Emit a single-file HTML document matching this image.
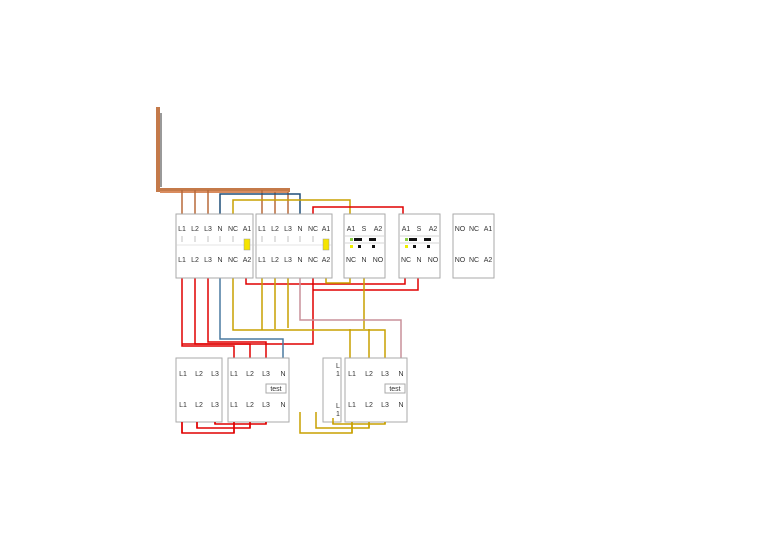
<!DOCTYPE html>
<html><head><meta charset="utf-8"><style>
html,body{margin:0;padding:0;background:#fff;}
svg{display:block;font-family:"Liberation Sans",sans-serif;}
text{font-size:7px;fill:#333;text-anchor:middle;}
</style></head><body>
<svg width="760" height="538" viewBox="0 0 760 538">
<g fill="none" stroke-width="1.5">
<!-- brown bundle -->
<path d="M158 107 L158 190 L290 190" stroke="#c47a4a" stroke-width="4"/>
<path d="M161 113 L161 187" stroke="#555" stroke-width="1.2"/>
<path d="M160 192 L288 192" stroke="#d98c5f" stroke-width="2"/>
<path d="M182 190V214M195 190V214M208 190V214M262 190V214M275 192V214M288 192V214" stroke="#b86a3a"/>
<path d="M220 214V194H300V214" stroke="#1f4e79"/>
<path d="M233 214V200H350V214" stroke="#c8a000"/>
<path d="M313 214V207H403V214" stroke="#e00000"/>
<!-- red below -->
<path d="M182 278V346H234V358" stroke="#e00000"/>
<path d="M195 278V344H250V358" stroke="#e00000"/>
<path d="M208 278V342H266V358" stroke="#e00000"/>
<path d="M313 278V344H182" stroke="#e00000"/>
<path d="M246 278V284H405V278" stroke="#e00000"/>
<path d="M313 290H418V278" stroke="#e00000"/>
<path d="M220 278V339H283V358" stroke="#4a7aa0"/>
<!-- yellow -->
<path d="M326 278V283H350V278" stroke="#c8a000"/>
<path d="M233 278V330H385V358" stroke="#c8a000"/>
<path d="M262 278V330M275 278V329M288 278V328" stroke="#c8a000"/>
<path d="M364 278V329M350 329V358M369 329V358" stroke="#c8a000"/>
<path d="M300 278V320H401V358" stroke="#c8909a"/>
<!-- bottom loops -->
<path d="M182 414V433H234V414" stroke="#e00000"/>
<path d="M197 414V428H250V414" stroke="#e00000"/>
<path d="M215 414V424H266V414" stroke="#e00000"/>
<path d="M300 412V433H352V414" stroke="#c8a000"/>
<path d="M316 412V428H369V414" stroke="#c8a000"/>
<path d="M333 412V424H385V414" stroke="#c8a000"/>
</g>
<g fill="#fff" stroke="#aaa" stroke-width="1">
<rect x="176" y="214" width="77" height="64"/>
<rect x="256" y="214" width="76" height="64"/>
<rect x="344" y="214" width="41" height="64"/>
<rect x="399" y="214" width="41" height="64"/>
<rect x="453" y="214" width="41" height="64"/>
<rect x="176" y="358" width="46" height="64"/>
<rect x="228" y="358" width="61" height="64"/>
<rect x="323" y="358" width="18" height="64"/>
<rect x="345" y="358" width="62" height="64"/>
<rect x="266" y="384" width="20" height="9"/>
<rect x="385" y="384" width="20" height="9"/>
</g>
<g fill="none" stroke-width="1.5">
<path d="M182 422V433M197 422V428M215 422V424M234 422V433M250 422V428M266 422V424" stroke="#e00000"/>
<path d="M333 418V424M352 422V433M369 422V428M385 422V424" stroke="#c8a000"/>
</g>
<g stroke="#999" stroke-width="0.6">
<path d="M182 236V242M195 236V242M208 236V242M220 236V242M233 236V242M262 236V242M275 236V242M288 236V242M300 236V242M313 236V242"/>
<path d="M176 245H332" stroke="#ccc"/>
<path d="M345 236H384M345 243H384M400 236H439M400 243H439" stroke="#aaa"/>
</g>
<rect x="244" y="239" width="6" height="11" fill="#f5e400" stroke="#999" stroke-width="0.5"/>
<rect x="323" y="239" width="6" height="11" fill="#f5e400" stroke="#999" stroke-width="0.5"/>
<g fill="#111">
<rect x="354" y="238" width="8" height="3"/><rect x="369" y="238" width="7" height="3"/>
<rect x="358" y="245" width="3" height="3"/><rect x="372" y="245" width="3" height="3"/>
<rect x="409" y="238" width="8" height="3"/><rect x="424" y="238" width="7" height="3"/>
<rect x="413" y="245" width="3" height="3"/><rect x="427" y="245" width="3" height="3"/>
</g>
<rect x="350" y="238" width="3" height="3" fill="#8c4"/><rect x="350" y="245" width="3" height="3" fill="#ee0"/>
<rect x="405" y="238" width="3" height="3" fill="#8c4"/><rect x="405" y="245" width="3" height="3" fill="#ee0"/>
<g>
<text x="182" y="231">L1</text><text x="195" y="231">L2</text><text x="208" y="231">L3</text><text x="220" y="231">N</text><text x="233" y="231">NC</text><text x="247" y="231">A1</text>
<text x="182" y="262">L1</text><text x="195" y="262">L2</text><text x="208" y="262">L3</text><text x="220" y="262">N</text><text x="233" y="262">NC</text><text x="247" y="262">A2</text>
<text x="262" y="231">L1</text><text x="275" y="231">L2</text><text x="288" y="231">L3</text><text x="300" y="231">N</text><text x="313" y="231">NC</text><text x="326" y="231">A1</text>
<text x="262" y="262">L1</text><text x="275" y="262">L2</text><text x="288" y="262">L3</text><text x="300" y="262">N</text><text x="313" y="262">NC</text><text x="326" y="262">A2</text>
<text x="351" y="231">A1</text><text x="364" y="231">S</text><text x="378" y="231">A2</text>
<text x="351" y="262">NC</text><text x="364" y="262">N</text><text x="378" y="262">NO</text>
<text x="406" y="231">A1</text><text x="419" y="231">S</text><text x="433" y="231">A2</text>
<text x="406" y="262">NC</text><text x="419" y="262">N</text><text x="433" y="262">NO</text>
<text x="460" y="231">NO</text><text x="474" y="231">NC</text><text x="488" y="231">A1</text>
<text x="460" y="262">NO</text><text x="474" y="262">NC</text><text x="488" y="262">A2</text>
<text x="183" y="376">L1</text><text x="199" y="376">L2</text><text x="215" y="376">L3</text>
<text x="183" y="407">L1</text><text x="199" y="407">L2</text><text x="215" y="407">L3</text>
<text x="234" y="376">L1</text><text x="250" y="376">L2</text><text x="266" y="376">L3</text><text x="283" y="376">N</text>
<text x="234" y="407">L1</text><text x="250" y="407">L2</text><text x="266" y="407">L3</text><text x="283" y="407">N</text>
<text x="276" y="391">test</text>
<text x="338" y="368">L</text><text x="338" y="376">1</text><text x="338" y="408">L</text><text x="338" y="416">1</text>
<text x="352" y="376">L1</text><text x="369" y="376">L2</text><text x="385" y="376">L3</text><text x="401" y="376">N</text>
<text x="352" y="407">L1</text><text x="369" y="407">L2</text><text x="385" y="407">L3</text><text x="401" y="407">N</text>
<text x="395" y="391">test</text>
</g>
</svg>
</body></html>
